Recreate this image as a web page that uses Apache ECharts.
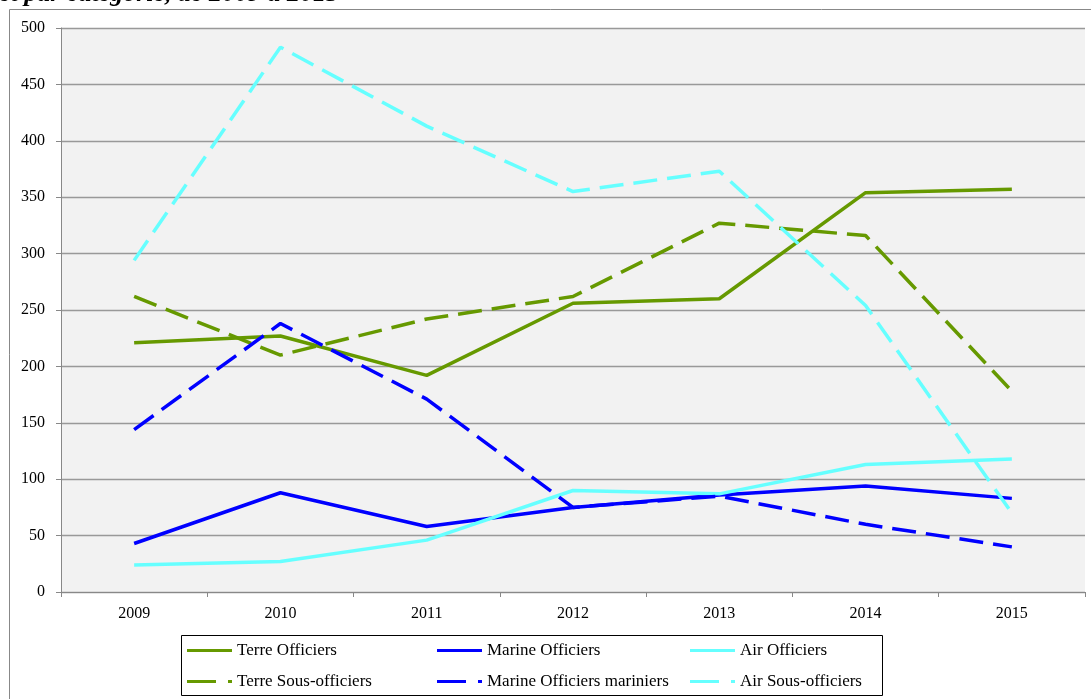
<!DOCTYPE html>
<html>
<head>
<meta charset="utf-8">
<script src="https://cdn.jsdelivr.net/npm/echarts@6/dist/echarts.min.js"></script>
<style>
  html, body { margin: 0; padding: 0; background: #ffffff; }
  #chart { width: 1091px; height: 699px; }
</style>
</head>
<body>
<div id="chart"></div>
<script>
// Effectifs par armée et par catégorie, 2009–2015
const years = ['2009', '2010', '2011', '2012', '2013', '2014', '2015'];

const terreOfficiers      = [221, 227, 192, 256, 260, 354, 357];
const marineOfficiers     = [43, 88, 58, 75, 86, 94, 83];
const airOfficiers        = [24, 27, 46, 90, 87, 113, 118];
const terreSousOfficiers  = [262, 210, 242, 262, 327, 316, 178];
const marineOffMariniers  = [144, 238, 171, 75, 85, 60, 40];
const airSousOfficiers    = [294, 483, 413, 355, 373, 254, 70];

const FONT = '"Liberation Serif", "DejaVu Serif", serif';
const GREEN = '#669900';
const BLUE = '#0000ff';
const CYAN = '#66ffff';
const DASH = [24, 10];

// legend keys: a plain bar for solid lines, dash + dot for dashed ones
const ICON_SOLID = 'path://M0,0H45V3H0Z';
const ICON_DASHED = 'path://M0,0H29V3H0Z M41,0H45V3H41Z';

function lineSeries(name, data, color, dashed) {
  return {
    name: name,
    type: 'line',
    data: data,
    symbol: 'none',
    smooth: false,
    lineStyle: { color: color, width: 3.5, type: dashed ? DASH : 'solid', cap: 'butt' },
    itemStyle: { color: color }
  };
}

function legendColumn(left, solidName, dashedName) {
  return {
    orient: 'vertical',
    left: left,
    top: 641,
    itemWidth: 45,
    itemHeight: 3,
    itemGap: 12,
    padding: 0,
    textStyle: { fontFamily: FONT, fontSize: 17, color: '#000', lineHeight: 19 },
    data: [
      { name: solidName, icon: ICON_SOLID },
      { name: dashedName, icon: ICON_DASHED }
    ]
  };
}

const chart = echarts.init(document.getElementById('chart'));
chart.setOption({
  animation: false,
  backgroundColor: '#ffffff',
  grid: {
    left: 61, right: 6, top: 28, bottom: 107,
    show: true, backgroundColor: '#f2f2f2', borderWidth: 0
  },
  xAxis: {
    type: 'category',
    data: years,
    boundaryGap: true,
    axisLine: { lineStyle: { color: '#888', width: 1 } },
    axisTick: { show: true, length: 5, alignWithLabel: false, lineStyle: { color: '#888' } },
    axisLabel: { fontFamily: FONT, fontSize: 16, color: '#000', margin: 14 },
    splitLine: { show: false }
  },
  yAxis: {
    type: 'value',
    min: 0, max: 500, interval: 50,
    axisLine: { show: true, lineStyle: { color: '#888', width: 1 } },
    axisTick: { show: true, length: 5, lineStyle: { color: '#888' } },
    axisLabel: { fontFamily: FONT, fontSize: 16, color: '#000', margin: 16 },
    splitLine: { show: true, lineStyle: { color: '#999', width: 1.3 } }
  },
  legend: [
    legendColumn(187, 'Terre Officiers', 'Terre Sous-officiers'),
    legendColumn(437, 'Marine Officiers', 'Marine Officiers mariniers'),
    legendColumn(690, 'Air Officiers', 'Air Sous-officiers')
  ],
  graphic: [
    {
      type: 'rect',
      shape: { x: 9.5, y: 9.5, width: 1200, height: 800 },
      style: { fill: 'none', stroke: '#888', lineWidth: 1 },
      z: -10
    },
    {
      type: 'rect',
      shape: { x: 181.5, y: 635.5, width: 701, height: 60 },
      style: { fill: 'none', stroke: '#000', lineWidth: 1 },
      z: 10
    },
    {
      // page heading running above the chart frame
      type: 'text',
      x: -1,
      y: 7,
      style: {
        text: 'et par catégorie, de 2009 à 2015',
        font: 'italic bold 26px ' + FONT,
        fill: '#000',
        verticalAlign: 'bottom'
      },
      z: 10
    }
  ],
  series: [
    lineSeries('Terre Officiers', terreOfficiers, GREEN, false),
    lineSeries('Marine Officiers', marineOfficiers, BLUE, false),
    lineSeries('Air Officiers', airOfficiers, CYAN, false),
    lineSeries('Terre Sous-officiers', terreSousOfficiers, GREEN, true),
    lineSeries('Marine Officiers mariniers', marineOffMariniers, BLUE, true),
    lineSeries('Air Sous-officiers', airSousOfficiers, CYAN, true)
  ]
});
</script>
</body>
</html>
